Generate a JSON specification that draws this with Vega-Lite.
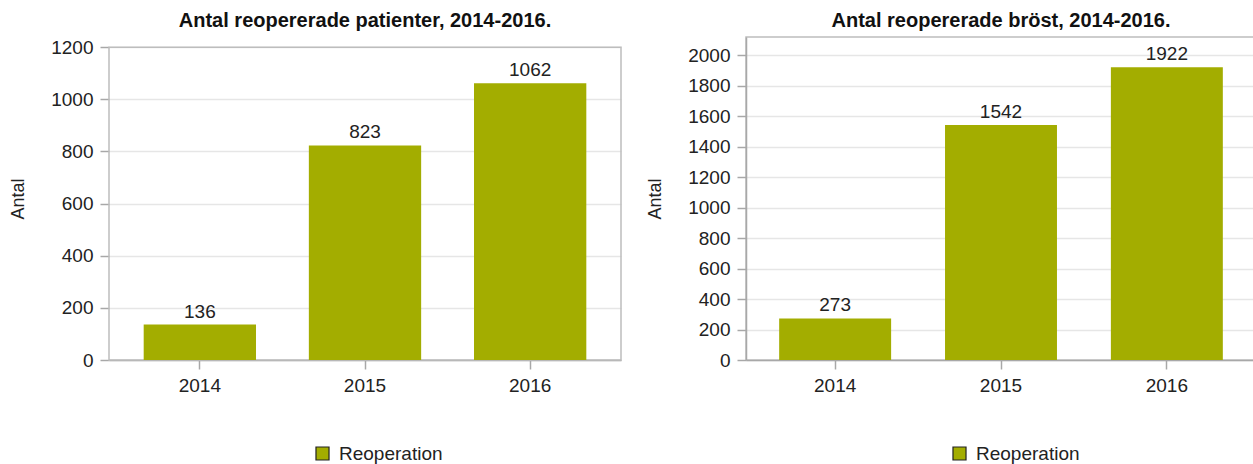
{
  "$schema": "https://vega.github.io/schema/vega-lite/v6.json",
  "padding": {"left": 9, "top": 10, "right": 0, "bottom": 0},
  "background": "white",
  "config": {
    "font": "Liberation Sans",
    "view": {"stroke": "#BDBDBD", "strokeWidth": 1.5},
    "axis": {
      "labelFont": "Liberation Sans", "labelFontSize": 19, "labelColor": "#222222",
      "titleFont": "Liberation Sans", "titleFontSize": 18, "titleFontWeight": "normal", "titleColor": "#222222",
      "domainColor": "#A8A8A8", "domainWidth": 1.5, "tickColor": "#A8A8A8", "tickWidth": 1.5, "tickSize": 9,
      "labelPadding": 7, "gridColor": "#E6E6E6", "gridWidth": 1.5
    },
    "title": {"font": "Liberation Sans", "fontSize": 20, "fontWeight": "bold", "color": "#111111", "anchor": "middle"},
    "legend": {
      "labelFont": "Liberation Sans", "labelFontSize": 19, "labelColor": "#222222",
      "symbolType": "square", "symbolSize": 170, "symbolStrokeColor": "#222222", "symbolStrokeWidth": 1.2,
      "labelOffset": 7, "padding": 0
    }
  },
  "spacing": 23,
  "hconcat": [
    {
      "title": {"text": "Antal reopererade patienter, 2014-2016.", "offset": 6},
      "width": 512,
      "height": 323,
      "view": {"stroke": null},
      "layer": [
        {
          "data": {"values": [{"lo": 0, "hi": 1200}]},
          "mark": {"type": "rect", "fill": null, "stroke": "#BDBDBD", "strokeWidth": 1.5},
          "encoding": {
            "y": {"field": "lo", "type": "quantitative", "scale": {"domain": [0, 1239], "nice": false}},
            "y2": {"field": "hi"}
          }
        },
        {
          "data": {"values": [
            {"year": "2014", "antal": 136, "serie": "Reoperation"},
            {"year": "2015", "antal": 823, "serie": "Reoperation"},
            {"year": "2016", "antal": 1062, "serie": "Reoperation"}
          ]},
          "encoding": {
            "x": {"field": "year", "type": "ordinal", "scale": {"paddingInner": 0.32, "paddingOuter": 0.21},
                  "axis": {"title": null, "labelAngle": 0, "grid": false}},
            "y": {"field": "antal", "type": "quantitative", "scale": {"domain": [0, 1239], "nice": false},
                  "axis": {"title": "Antal", "titlePadding": 23, "format": "d", "domain": false, "values": [0, 200, 400, 600, 800, 1000, 1200]}}
          },
          "layer": [
            {
              "mark": {"type": "bar"},
              "encoding": {
                "color": {"field": "serie", "type": "nominal",
                          "scale": {"domain": ["Reoperation"], "range": ["#A3AD00"]},
                          "legend": {"title": null, "orient": "none", "legendX": 204, "legendY": 407}}
              }
            },
            {
              "mark": {"type": "text", "baseline": "alphabetic", "dy": -7, "fontSize": 19, "color": "#222222"},
              "encoding": {"text": {"field": "antal", "type": "quantitative", "format": "d"}}
            }
          ]
        }
      ]
    },
    {
      "title": {"text": "Antal reopererade bröst, 2014-2016.", "offset": 6},
      "width": 510,
      "height": 323,
      "data": {"values": [
        {"year": "2014", "antal": 273, "serie": "Reoperation"},
        {"year": "2015", "antal": 1542, "serie": "Reoperation"},
        {"year": "2016", "antal": 1922, "serie": "Reoperation"}
      ]},
      "encoding": {
        "x": {"field": "year", "type": "ordinal", "scale": {"paddingInner": 0.325, "paddingOuter": 0.2},
              "axis": {"title": null, "labelAngle": 0, "grid": false}},
        "y": {"field": "antal", "type": "quantitative", "scale": {"domain": [0, 2120], "nice": false},
              "axis": {"title": "Antal", "titlePadding": 23, "format": "d", "values": [0, 200, 400, 600, 800, 1000, 1200, 1400, 1600, 1800, 2000]}}
      },
      "layer": [
        {
          "mark": {"type": "bar"},
          "encoding": {
            "color": {"field": "serie", "type": "nominal",
                      "scale": {"domain": ["Reoperation"], "range": ["#A3AD00"]},
                      "legend": {"title": null, "orient": "none", "legendX": 204, "legendY": 407}}
          }
        },
        {
          "mark": {"type": "text", "baseline": "alphabetic", "dy": -7, "fontSize": 19, "color": "#222222"},
          "encoding": {"text": {"field": "antal", "type": "quantitative", "format": "d"}}
        }
      ]
    }
  ],
  "resolve": {
    "scale": {"x": "independent", "y": "independent", "color": "independent"},
    "legend": {"color": "independent"}
  }
}
